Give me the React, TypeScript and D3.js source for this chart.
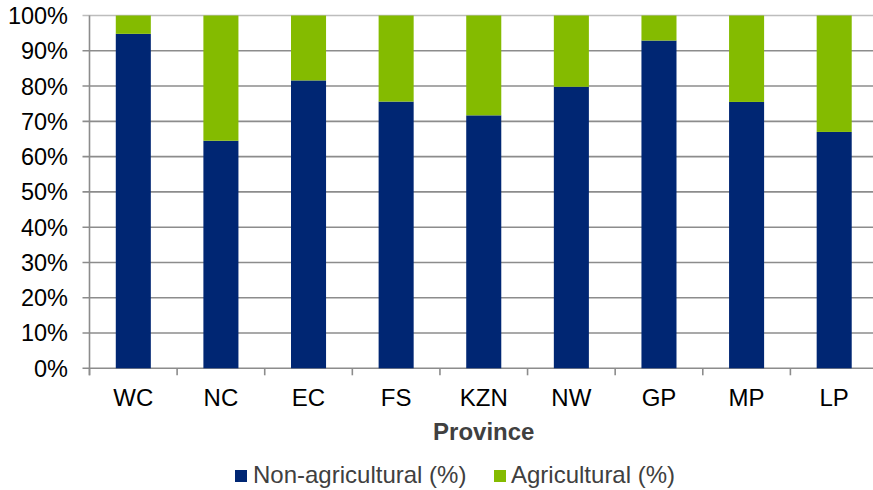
import React from "react";
import * as d3 from "d3";

const provinces = ["WC", "NC", "EC", "FS", "KZN", "NW", "GP", "MP", "LP"];
const nonAgricultural = [94.8, 64.5, 81.6, 75.6, 71.7, 79.8, 92.9, 75.5, 67.0];
const agricultural = nonAgricultural.map((v) => 100 - v);
const yTicks = [0, 10, 20, 30, 40, 50, 60, 70, 80, 90, 100];
const seriesNames = ["Non-agricultural (%)", "Agricultural (%)"];
const seriesColors = ["#002673", "#84bb00"];

export default function App() {
  const W = 873;
  const H = 490;
  const left = 89.5;
  const right = 878;
  const top = 15.5;
  const bottom = 368.3;

  const x = d3.scaleBand<string>().domain(provinces).range([left, right]).paddingInner(0.6).paddingOuter(0.3);
  const y = d3.scaleLinear().domain([0, 100]).range([bottom, top]);
  const step = x.step();
  const font = "'Liberation Sans', Arial, sans-serif";

  const rows = provinces.map((p, i) => ({ p, a: nonAgricultural[i], b: agricultural[i] }));
  const stack = d3.stack<any>().keys(["a", "b"])(rows);

  return (
    <svg width={W} height={H} style={{ position: "absolute", left: 0, top: 0 }} fontFamily={font}>
      <rect width={W} height={H} fill="#fff" />
      {yTicks.map((t) => (
        <g key={t}>
          <line x1={left - 7} x2={right} y1={y(t)} y2={y(t)} stroke={t === 100 ? "#bdbdbd" : "#8c8c8c"} strokeWidth={1.6} />
          <text x={68} y={y(t)} dy="0.36em" textAnchor="end" fontSize={23.5} fill="#000">
            {t}%
          </text>
        </g>
      ))}
      {stack.map((s, si) =>
        s.map((d, i) => (
          <rect
            key={si + "-" + i}
            x={x(provinces[i])}
            width={x.bandwidth()}
            y={y(d[1])}
            height={y(d[0]) - y(d[1])}
            fill={seriesColors[si]}
          />
        ))
      )}
      <line x1={left} x2={left} y1={top} y2={bottom + 7} stroke="#8c8c8c" strokeWidth={1.6} />
      {d3.range(provinces.length + 1).map((i) => (
        <line key={i} x1={left + i * step} x2={left + i * step} y1={bottom} y2={bottom + 7} stroke="#8c8c8c" strokeWidth={1.6} />
      ))}
      {provinces.map((p) => (
        <text key={p} x={(x(p) as number) + x.bandwidth() / 2} y={406} textAnchor="middle" fontSize={24} fill="#000">
          {p}
        </text>
      ))}
      <text x={(left + right) / 2} y={440} textAnchor="middle" fontSize={24} fontWeight="bold" fill="#404040">
        Province
      </text>
      <g>
        <rect x={235} y={470} width={12} height={12} fill={seriesColors[0]} />
        <text x={253} y={483} fontSize={24} fill="#404040">{seriesNames[0]}</text>
        <rect x={494} y={470} width={12} height={12} fill={seriesColors[1]} />
        <text x={511} y={483} fontSize={24} fill="#404040">{seriesNames[1]}</text>
      </g>
    </svg>
  );
}
